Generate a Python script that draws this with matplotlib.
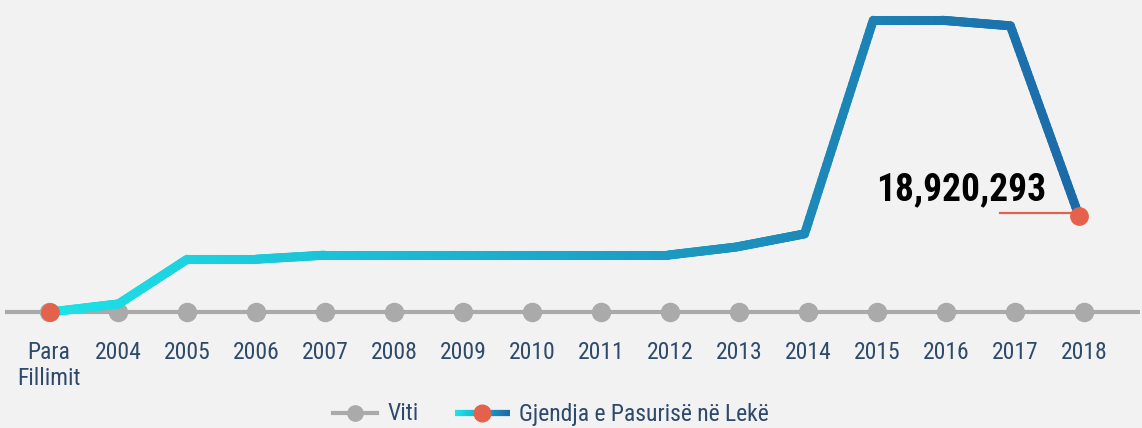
import numpy as np
import matplotlib
matplotlib.use("Agg")
import matplotlib.pyplot as plt
from matplotlib.collections import LineCollection
from matplotlib.colors import LinearSegmentedColormap

categories = ["Para\nFillimit", "2004", "2005", "2006", "2007", "2008", "2009", "2010",
              "2011", "2012", "2013", "2014", "2015", "2016", "2017", "2018"]
pasuria = [0, 1_600_000, 10_400_000, 10_400_000, 11_200_000, 11_200_000, 11_200_000,
           11_200_000, 11_200_000, 11_200_000, 12_800_000, 15_400_000, 57_500_000,
           57_500_000, 56_400_000, 18_920_293]
viti = [0] * len(categories)
annot_label = "18,920,293"

FONT = ["Roboto Condensed", "DejaVu Sans"]
BG = "#f2f2f2"
GRAY = "#aaaaaa"
RED = "#e4624b"
LABEL = "#2e4a6b"
cmap = LinearSegmentedColormap.from_list("g", ["#1ce3e8", "#1c6aa8"])

W, H = 1142, 428
fig = plt.figure(figsize=(W / 100, H / 100), dpi=100, facecolor=BG)
ax = fig.add_axes([0, 0, 1, 1], facecolor=BG)
ax.set_axis_off()
ax2 = fig.add_axes([0, 0, 1, 1], facecolor="none")
ax2.set_axis_off()

n = len(categories)
x = np.arange(n)
vpp = 18_920_293 / 96.0
ylim = (-(H - 312) * vpp, 312 * vpp)

# axis for the "Viti" series: first category at 49 px, last at 1084 px
sp1 = (1084 - 49) / (n - 1)
ax.set_xlim(-49 / sp1, (n - 1) + (W - 1084) / sp1)
ax.set_ylim(*ylim)
# axis for the value series: first at 50 px, last at 1079 px
sp2 = (1079 - 50) / (n - 1)
ax2.set_xlim(-50 / sp2, (n - 1) + (W - 1079) / sp2)
ax2.set_ylim(*ylim)

# gray baseline series
ax.plot([ax.get_xlim()[0] + 5 / sp1, ax.get_xlim()[1] - 2 / sp1], [0, 0], color=GRAY, lw=3,
        zorder=1, solid_capstyle="butt")
ax.plot(x, viti, 'o', color=GRAY, ms=13, zorder=2)

# gradient main line
xs, ys = [], []
for i in range(n - 1):
    t = np.linspace(0, 1, 40, endpoint=False)
    xs.extend(x[i] + t * (x[i + 1] - x[i]))
    ys.extend(pasuria[i] + t * (pasuria[i + 1] - pasuria[i]))
xs.append(x[-1]); ys.append(pasuria[-1])
xs = np.array(xs); ys = np.array(ys)
pts = np.column_stack([xs, ys]).reshape(-1, 1, 2)
segs = np.concatenate([pts[:-1], pts[1:]], axis=1)
lc = LineCollection(segs, colors=cmap(xs[:-1] / (n - 1)), linewidths=6.5,
                    capstyle="round", joinstyle="round", zorder=3)
ax2.add_collection(lc)

# red endpoint markers
ax2.plot([x[0], x[-1]], [pasuria[0], pasuria[-1]], 'o', color=RED, ms=12.5, zorder=4)

# annotation
ax2.plot([x[-1] - 79 / sp2, x[-1]], [pasuria[-1] + 3 * vpp] * 2, color=RED, lw=1.6, zorder=3)
ax2.text(x[-1] - 33 / sp2, pasuria[-1] + 16 * vpp, annot_label, ha="right", va="baseline",
         fontsize=27, fontweight="bold", color="black", family=FONT, zorder=5)

# category labels
for xi, lab in zip(x, categories):
    ax.text(xi, -29 * vpp, lab, ha="center", va="top", fontsize=17, color=LABEL,
            family=FONT, linespacing=1.15)

# legend drawn in pixel coords
def fx(p):
    return p / W
def fy(p):
    return 1 - p / H
ly = 413
fig.add_artist(plt.Line2D([fx(333), fx(377)], [fy(ly)] * 2, color=GRAY, lw=3,
                          transform=fig.transFigure))
fig.add_artist(plt.Line2D([fx(355)], [fy(ly)], marker='o', color=GRAY, ms=11,
                          transform=fig.transFigure))
fig.text(fx(388), fy(ly + 1), "Viti", ha="left", va="center", fontsize=17, color=LABEL, family=FONT)
gx = np.linspace(455, 510, 30)
gsegs = [[(fx(gx[i]), fy(ly)), (fx(gx[i + 1]), fy(ly))] for i in range(len(gx) - 1)]
fig.add_artist(LineCollection(gsegs, colors=cmap(np.linspace(0, 1, len(gx) - 1)), linewidths=4.5,
                              transform=fig.transFigure))
fig.add_artist(plt.Line2D([fx(482)], [fy(ly)], marker='o', color=RED, ms=12,
                          transform=fig.transFigure))
fig.text(fx(519), fy(ly + 1), "Gjendja e Pasurisë në Lekë", ha="left", va="center", fontsize=17,
         color=LABEL, family=FONT)

fig.savefig("out.png", dpi=100, facecolor=BG)
